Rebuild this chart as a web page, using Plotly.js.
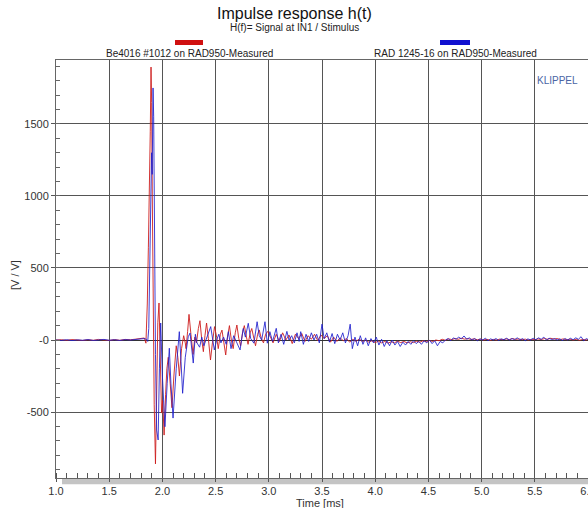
<!DOCTYPE html>
<html>
<head>
<meta charset="utf-8">
<script src="https://cdn.plot.ly/plotly-3.0.1.min.js"></script>
<style>html,body{margin:0;padding:0;background:#fff;}#chart{width:588px;height:508px;}</style>
</head>
<body>
<div id="chart"></div>
<script>
// Time axis values [ms] and responses [V/V]
const redT = [1.00,1.05,1.10,1.15,1.20,1.25,1.30,1.35,1.40,1.45,1.50,1.55,1.60,1.65,1.70,1.75,1.80,1.83,1.845,
 1.858,1.868,1.878,1.886,1.893,1.899,1.905,1.913,1.923,1.935,1.946,1.957,1.968,1.980,1.992,2.003,2.016,2.030,2.042,2.055,2.072,2.090,2.108,2.130,2.145,2.160,2.180,2.200,2.215,2.222,2.237,2.250,
 2.268,2.288,2.305,2.320,2.338,2.353,2.370,2.385,2.400,2.415,2.432,2.452,2.470,2.490,2.510,2.525,2.545,2.560,2.578,2.595,2.612,2.630,2.648,2.665,2.685,2.700,2.718,2.735,2.755,2.770,2.790,2.805,2.825,2.840,2.860,2.875,2.895,2.910,2.930,2.950,2.970,2.990,
 3.01,3.04,3.07,3.10,3.13,3.16,3.19,3.22,3.25,3.28,3.31,3.34,3.37,3.40,3.43,3.46,3.49,3.52,3.55,3.58,3.61,3.64,3.67,3.70,3.73,3.76,3.79,3.82,3.85,3.88,3.91,3.94,3.97,4.00,
 4.03,4.06,4.09,4.12,4.15,4.18,4.21,4.24,4.27,4.30,4.33,4.36,4.39,4.42,4.45,4.48,4.51,4.54,4.57,4.60,4.63,4.66,4.69,4.72,4.75,4.78,4.81,4.84,4.87,4.90,4.93,4.96,4.99,
 5.02,5.05,5.08,5.11,5.14,5.17,5.20,5.23,5.26,5.29,5.32,5.35,5.38,5.41,5.44,5.47,5.50,5.53,5.56,5.59,5.62,5.65,5.68,5.71,5.74,5.77,5.80,5.83,5.86,5.89,5.92,5.95,5.98,6.01];
const redV = [0,2,-2,3,0,-3,2,-2,4,0,-3,3,-2,4,2,6,10,14,-22,
 250,640,1020,1450,1895,1650,1000,200,-450,-860,-350,120,257,-150,-507,-420,-660,-380,-200,-120,-300,-470,-250,-40,-120,-250,-60,30,-20,-60,60,178,
 40,-100,20,-20,80,134,0,-81,30,118,10,-139,-20,93,20,-60,40,69,-20,-104,20,100,0,-60,50,104,10,-40,60,100,20,-30,50,80,10,-40,40,70,10,-20,40,60,
 30,-20,40,-10,50,0,35,-25,40,10,45,-10,30,5,40,-5,35,10,30,-15,20,-10,15,-5,10,-15,5,-10,8,-12,0,-15,-5,-18,
 -8,-20,-10,-22,-12,-20,-8,-18,-10,-20,-12,-18,-8,-15,-5,-12,-3,-10,0,-5,5,-2,8,3,10,5,12,6,10,4,8,2,6,
 0,5,-2,4,0,6,2,8,3,10,4,8,2,6,0,5,2,8,3,10,5,12,6,10,3,8,2,6,0,5,-2,4,0,5];

const blueT = [1.00,1.05,1.10,1.15,1.20,1.25,1.30,1.35,1.40,1.45,1.50,1.55,1.60,1.65,1.70,1.75,1.80,1.83,1.85,
 1.862,1.872,1.882,1.892,1.898,1.904,1.912,1.918,1.926,1.935,1.946,1.960,1.972,1.984,2.000,2.024,2.045,2.065,2.080,2.100,2.130,2.159,2.175,2.190,2.215,2.243,
 2.260,2.290,2.310,2.325,2.350,2.370,2.390,2.420,2.454,2.488,2.510,2.530,2.550,2.575,2.600,2.620,2.645,2.670,2.700,2.730,2.760,2.780,2.807,2.830,2.860,2.890,2.910,2.933,2.964,2.986,
 3.010,3.035,3.070,3.090,3.115,3.140,3.170,3.190,3.215,3.240,3.265,3.285,3.300,3.325,3.350,3.375,3.400,3.425,3.450,3.475,3.500,3.520,3.545,3.570,3.595,3.620,3.645,3.670,3.695,3.720,3.745,3.765,3.785,3.810,3.835,3.860,3.885,3.910,3.935,3.960,3.985,
 4.010,4.035,4.060,4.085,4.110,4.135,4.160,4.185,4.210,4.235,4.260,4.285,4.310,4.335,4.360,4.385,4.410,4.435,4.460,4.485,4.510,4.535,4.560,4.585,4.610,4.635,4.660,4.685,4.710,4.735,4.760,4.785,4.810,4.835,4.860,4.885,4.910,4.935,4.960,4.985,
 5.010,5.035,5.060,5.085,5.110,5.135,5.160,5.185,5.210,5.235,5.260,5.285,5.310,5.335,5.360,5.385,5.410,5.435,5.460,5.485,5.510,5.535,5.560,5.585,5.610,5.635,5.660,5.685,5.710,5.735,5.760,5.785,5.810,5.835,5.860,5.885,5.910,5.935,5.960,5.985,6.010];
const blueV = [0,-3,2,-4,1,-2,3,-3,0,4,-2,2,-3,3,0,5,8,10,5,
 -10,80,450,950,1300,1150,1750,1550,700,-100,-625,-694,-200,118,-250,-602,-300,-57,-300,-542,-200,58,-150,-370,-120,23,
 48,-160,40,-20,-50,20,-40,30,93,-69,0,40,-20,20,-30,58,-60,30,-20,-69,80,20,116,10,-22,127,30,0,127,-22,
 58,-10,81,-20,40,-30,60,0,30,-20,50,-10,58,-30,40,-10,50,0,40,-20,110,10,50,-15,45,-25,40,0,50,-20,30,110,-60,20,-40,30,-30,15,-40,10,-20,
 20,-35,5,-45,-5,-40,0,-35,-10,-45,-15,-35,-10,-30,-5,-25,-10,-30,-5,-20,0,-25,-5,-40,-10,-20,0,10,-5,15,5,20,8,28,5,15,0,10,-5,8,
 0,12,-5,8,0,10,-3,8,2,12,0,10,3,15,0,10,-5,8,0,12,2,15,5,20,0,12,3,10,0,8,-3,10,0,12,2,15,5,23,-5,10,0];

const xTickVals = [1.0,1.5,2.0,2.5,3.0,3.5,4.0,4.5,5.0,5.5,6.0];
const xTickText = ['1.0','1.5','2.0','2.5','3.0','3.5','4.0','4.5','5.0','5.5','6.0'];
const yTickVals = [-500,0,500,1000,1500];
const yTickText = ['-500','-0','500','1000','1500'];
const seriesNames = ['Be4016 #1012 on RAD950-Measured','RAD 1245-16 on RAD950-Measured'];
const seriesColors = ['rgb(205,30,30)','rgb(30,30,205)'];

const FONT = 'Liberation Sans, Arial, sans-serif';
const traces = [
  {x: redT, y: redV, type:'scatter', mode:'lines', name: seriesNames[0], line:{color:seriesColors[0], width:1}, opacity:0.9},
  {x: blueT, y: blueV, type:'scatter', mode:'lines', name: seriesNames[1], line:{color:seriesColors[1], width:1}, opacity:0.85}
];

const layout = {
  width:588, height:508,
  margin:{l:56, r:0, t:60, b:30, pad:0},
  paper_bgcolor:'#fff', plot_bgcolor:'#fff',
  showlegend:false,
  font:{family:FONT, size:11, color:'#333'},
  xaxis:{
    range:[1,6], tickvals:xTickVals, ticktext:xTickText,
    showgrid:true, gridcolor:'#555', gridwidth:1,
    showline:true, linecolor:'#666', linewidth:1, mirror:true,
    ticks:'outside', ticklen:3, tickcolor:'#555', ticklabeloverflow:'allow',
    minor:{dtick:0.1, ticks:'inside', ticklen:5, tickcolor:'#555', showgrid:false},
    zeroline:false, tickfont:{family:FONT, size:11, color:'#333'}
  },
  yaxis:{
    range:[-958,1944], tickvals:yTickVals, ticktext:yTickText,
    showgrid:true, gridcolor:'#555', gridwidth:1,
    showline:true, linecolor:'#666', linewidth:1, mirror:true,
    ticks:'outside', ticklen:4, tickcolor:'#555',
    minor:{dtick:100, ticks:'inside', ticklen:4, tickcolor:'#666', showgrid:false},
    zeroline:true, zerolinecolor:'#333', zerolinewidth:1,
    tickfont:{family:FONT, size:11, color:'#333'}
  },
  shapes:[
    {type:'rect', xref:'paper', yref:'paper', x0:0.0113, x1:1, y0:-0.0005, y1:-0.0150, fillcolor:'#c4c4c4', line:{width:0}, layer:'below'},
    {type:'rect', xref:'paper', yref:'paper', x0:0.2237, x1:0.2763, y0:1.0359, y1:1.0478, fillcolor:'#d01010', line:{width:0}},
    {type:'rect', xref:'paper', yref:'paper', x0:0.7218, x1:0.7782, y0:1.0359, y1:1.0478, fillcolor:'#1010d0', line:{width:0}}
  ],
  annotations:[
    {text:'Impulse response h(t)', xref:'paper', yref:'paper', x:0.449, y:1.1124, showarrow:false, xanchor:'center', yanchor:'middle', font:{family:FONT, size:16, color:'#111'}},
    {text:'H(f)= Signal at IN1 / Stimulus', xref:'paper', yref:'paper', x:0.449, y:1.077, showarrow:false, xanchor:'center', yanchor:'middle', font:{family:FONT, size:10, color:'#222'}},
    {text:seriesNames[0], xref:'paper', yref:'paper', x:0.25, y:1.0167, showarrow:false, xanchor:'center', yanchor:'middle', font:{family:FONT, size:10, color:'#222'}},
    {text:seriesNames[1], xref:'paper', yref:'paper', x:0.75, y:1.0167, showarrow:false, xanchor:'center', yanchor:'middle', font:{family:FONT, size:10, color:'#222'}},
    {text:'KLIPPEL', xref:'paper', yref:'paper', x:0.9436, y:0.952, showarrow:false, xanchor:'center', yanchor:'middle', font:{family:FONT, size:10, color:'#4a64a4'}},
    {text:'[V / V]', xref:'paper', yref:'paper', x:-0.077, y:0.4856, showarrow:false, textangle:-90, xanchor:'center', yanchor:'middle', font:{family:FONT, size:11, color:'#333'}},
    {text:'Time [ms]', xref:'paper', yref:'paper', x:0.496, y:-0.0610, showarrow:false, xanchor:'center', yanchor:'middle', font:{family:FONT, size:11, color:'#333'}}
  ]
};

Plotly.newPlot('chart', traces, layout, {staticPlot:true, displayModeBar:false});
</script>
</body>
</html>
